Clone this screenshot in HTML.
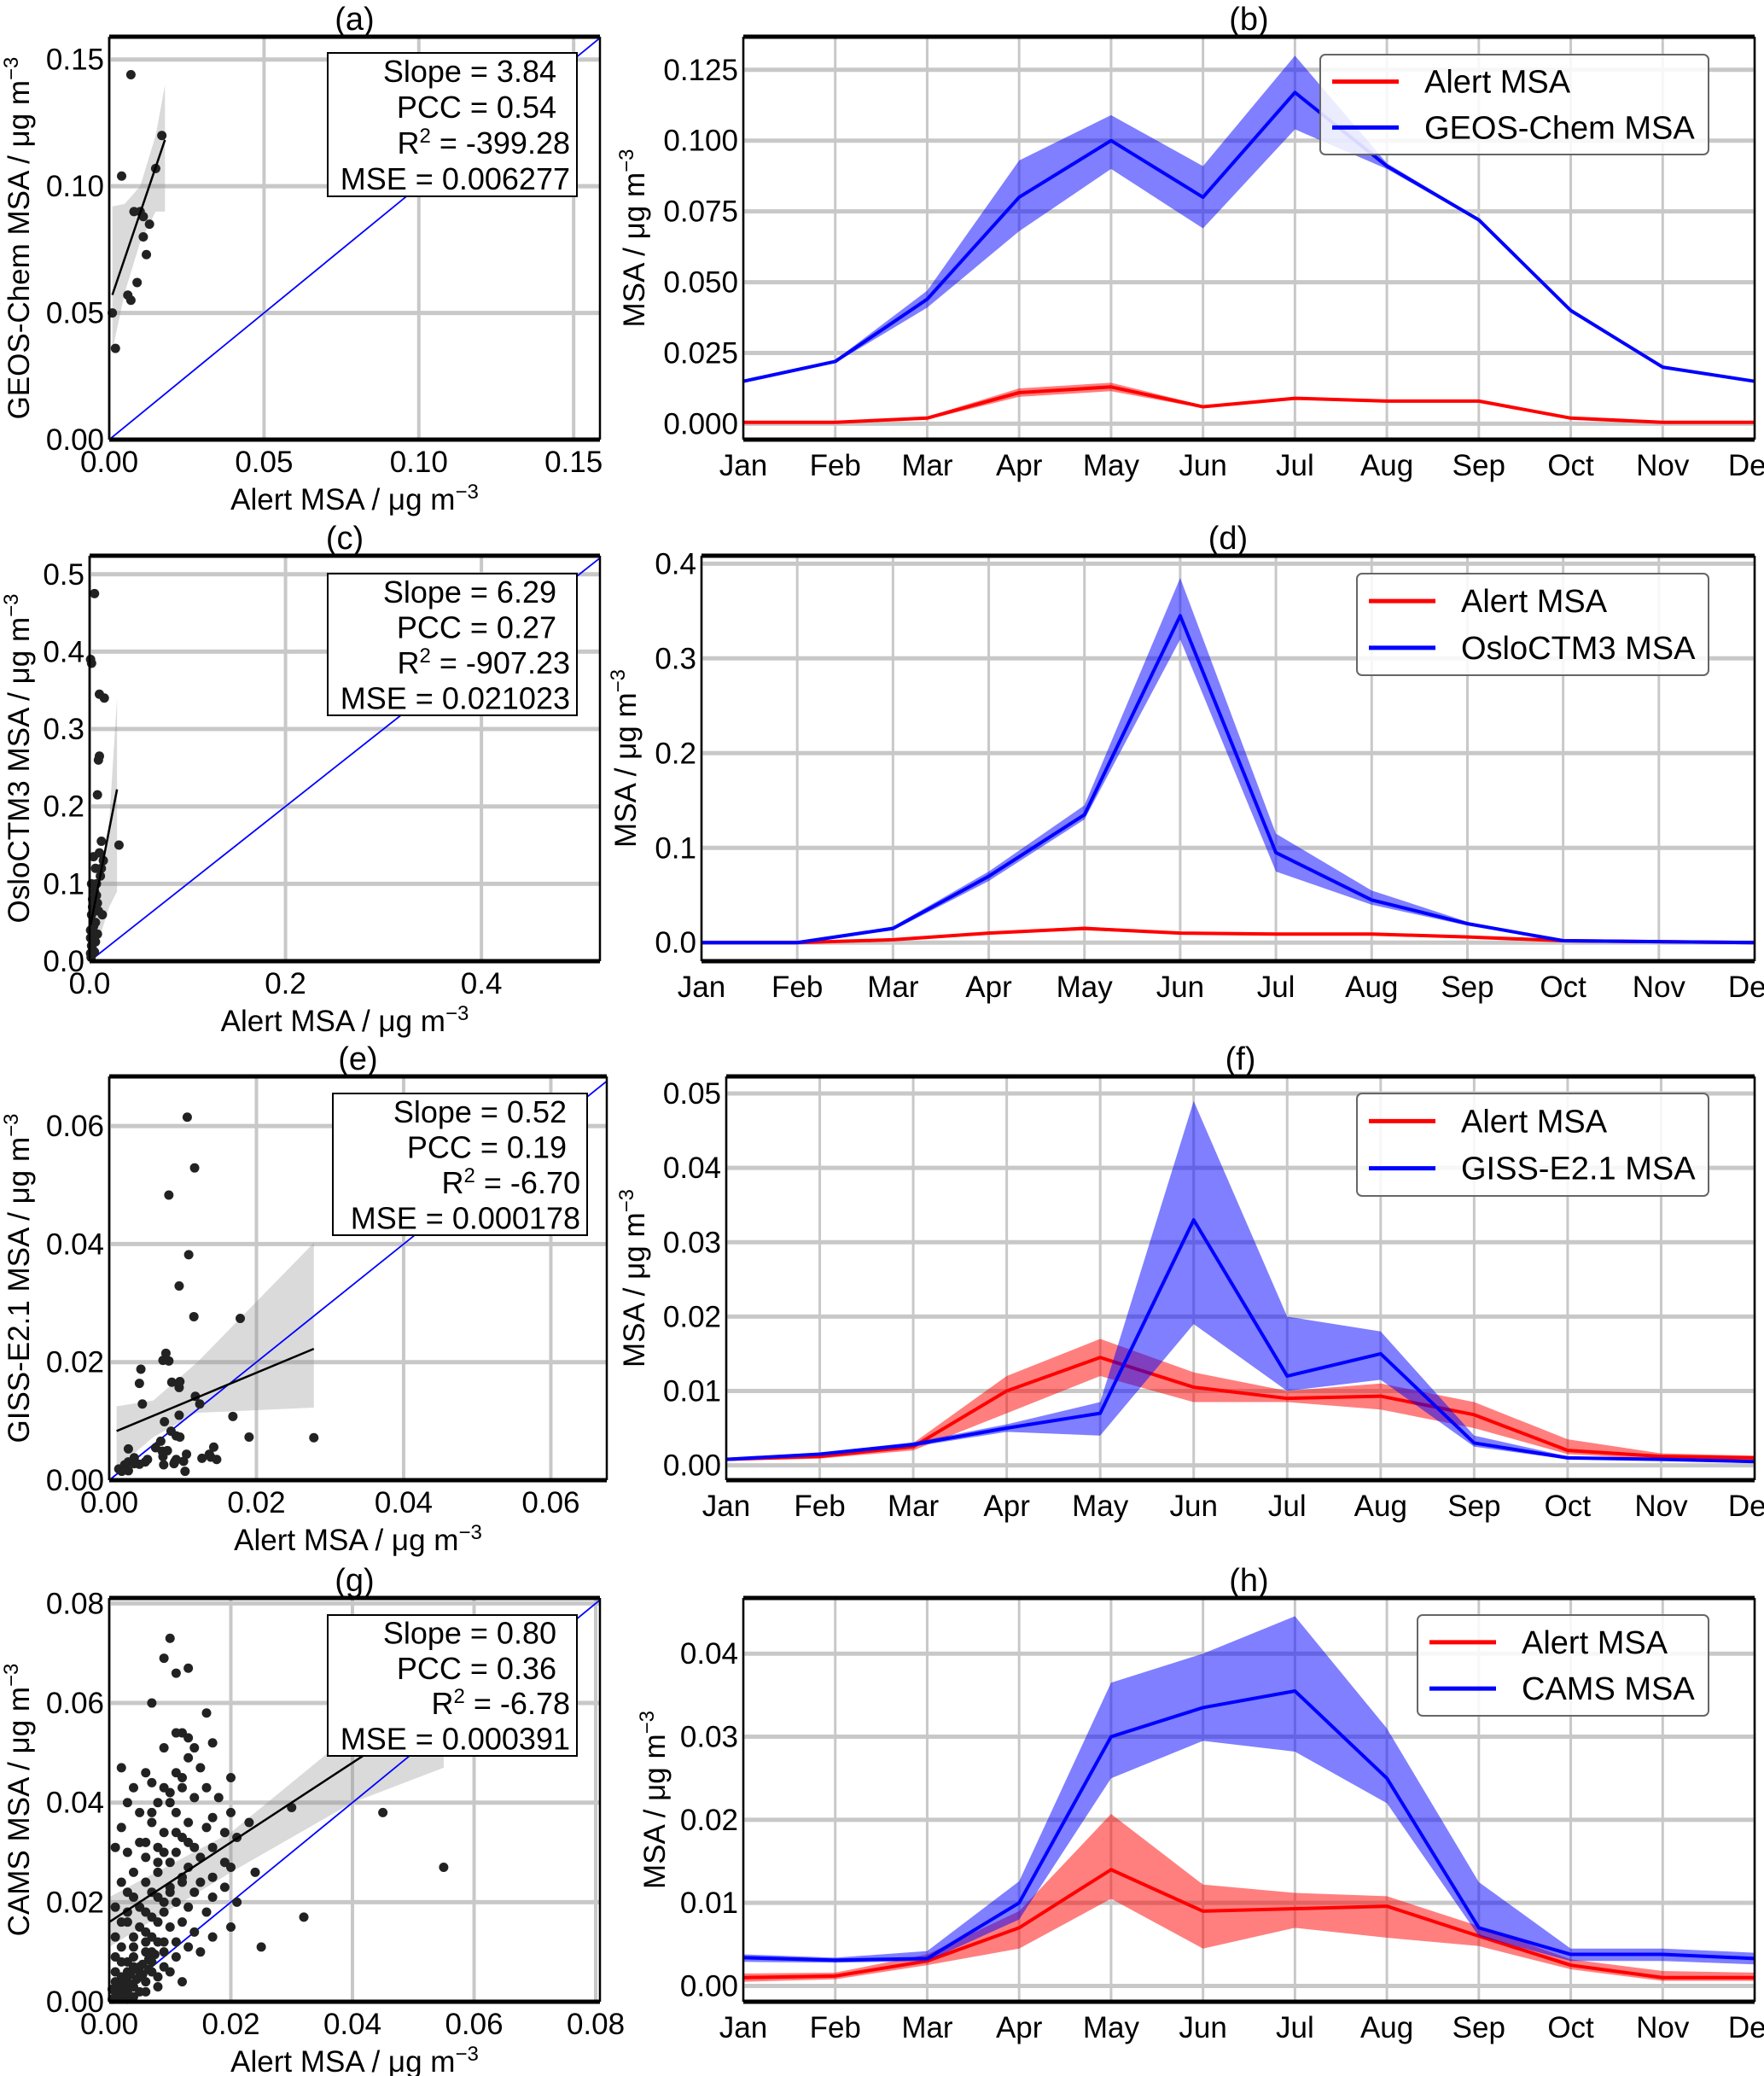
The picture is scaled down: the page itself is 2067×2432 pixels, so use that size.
<!DOCTYPE html>
<html><head><meta charset="utf-8"><style>
body{margin:0;background:#fff;}
svg{display:block;font-family:"Liberation Sans",sans-serif;}
</style></head><body>
<svg id="fig" width="2067" height="2432" viewBox="0 0 2067 2432" xmlns="http://www.w3.org/2000/svg"></svg>
<script>
// ---------- data ----------
const months = ["Jan","Feb","Mar","Apr","May","Jun","Jul","Aug","Sep","Oct","Nov","Dec"];
// (b)
const bAlert   = [.0005,.0005,.002,.011,.013,.006,.009,.008,.008,.002,.0005,.0005];
const bAlertLo = [.0,.0,.0015,.0095,.0115,.0055,.0085,.0075,.0075,.0015,.0,.0];
const bAlertHi = [.001,.001,.0025,.0125,.0145,.0065,.0095,.0085,.0085,.0025,.001,.001];
const bModel   = [.015,.022,.044,.080,.100,.080,.117,.091,.072,.040,.020,.015];
const bModelLo = [.0145,.0215,.041,.068,.090,.069,.104,.090,.0715,.0395,.0195,.0145];
const bModelHi = [.0155,.0225,.047,.093,.109,.091,.130,.092,.0725,.0405,.0205,.0155];
// (d)
const dAlert   = [.0,.0,.003,.010,.015,.010,.009,.009,.006,.002,.001,.0];
const dAlertLo = [.0,.0,.002,.009,.013,.009,.008,.008,.005,.001,.0,.0];
const dAlertHi = [.001,.001,.004,.011,.017,.011,.010,.010,.007,.003,.002,.001];
const dModel   = [.0,.0,.015,.070,.135,.345,.095,.045,.020,.002,.001,.0];
const dModelLo = [.0,.0,.013,.065,.130,.320,.075,.040,.018,.001,.0,.0];
const dModelHi = [.001,.001,.017,.075,.145,.385,.115,.055,.022,.003,.002,.001];
// (f)
const fAlert   = [.0008,.0012,.0025,.010,.0145,.0105,.009,.0093,.0068,.002,.0012,.001];
const fAlertLo = [.0006,.0009,.002,.007,.012,.0085,.0085,.0075,.005,.0015,.0008,.0007];
const fAlertHi = [.001,.0015,.003,.012,.017,.0125,.010,.011,.0085,.0035,.0016,.0013];
const fModel   = [.0008,.0015,.0028,.005,.007,.033,.012,.015,.003,.001,.0008,.0005];
const fModelLo = [.0006,.0013,.0025,.0045,.004,.019,.010,.0115,.0025,.0008,.0006,.0004];
const fModelHi = [.001,.0017,.0031,.0055,.0085,.049,.020,.018,.004,.0012,.001,.0006];
// (h)
const hAlert   = [.001,.0012,.003,.007,.014,.009,.0093,.0096,.006,.0025,.001,.001];
const hAlertLo = [.0005,.0008,.0025,.0045,.0105,.0045,.007,.0058,.0048,.002,.0006,.0006];
const hAlertHi = [.0015,.0016,.0038,.009,.0207,.0122,.0112,.0108,.0072,.0032,.0018,.0016];
const hModel   = [.0034,.0031,.0033,.010,.030,.0335,.0355,.025,.007,.0038,.0038,.0033];
const hModelLo = [.0029,.0028,.0030,.008,.025,.0295,.0282,.022,.006,.0030,.0030,.0026];
const hModelHi = [.0038,.0034,.0042,.0126,.0365,.040,.0445,.031,.0125,.0045,.0045,.0040];

// scatter (x = Alert, y = model)
const aPts = [[.007,.144],[.004,.104],[.001,.05],[.002,.036],[.006,.057],[.007,.055],[.008,.09],[.010,.09],[.011,.080],[.013,.085],[.012,.073],[.015,.107],[.017,.120],[.009,.062],[.011,.088]];
const cPts = [[.005,.475],[.001,.39],[.002,.385],[.010,.345],[.015,.34],[.010,.265],[.009,.26],[.008,.215],[.012,.155],[.030,.15],[.010,.14],[.004,.135],[.006,.12],[.002,.10],[.005,.09],[.003,.08],[.008,.075],[.002,.06],[.006,.05],[.001,.04],[.004,.03],[.002,.02],[.001,.01],[.003,.015],[.006,.025],[.011,.11],[.014,.13],[.007,.10],[.009,.065],[.0015,.005],[.004,.045],[.013,.06],[.003,.07],[.007,.085],[.012,.12],[.001,.03],[.005,.012],[.008,.035]];
const ePts = [[.0106,.0615],[.0116,.0529],[.0081,.0483],[.0108,.0382],[.0095,.0329],[.0115,.0277],[.0178,.0274],[.0077,.0215],[.0073,.0203],[.0081,.0202],[.0043,.0188],[.0041,.0164],[.0085,.0166],[.0096,.0167],[.0095,.0157],[.0117,.0142],[.0045,.0129],[.0123,.0129],[.0095,.0110],[.0168,.0108],[.0075,.0099],[.0084,.0083],[.0091,.0075],[.0096,.0073],[.0190,.0073],[.0278,.0072],[.0070,.0066],[.0026,.0053],[.0063,.0055],[.0072,.0049],[.0079,.0050],[.0142,.0056],[.0105,.0044],[.0073,.0040],[.0136,.0044],[.0138,.0039],[.0126,.0037],[.0146,.0035],[.0091,.0035],[.0089,.0031],[.0088,.0028],[.0101,.0032],[.0074,.0026],[.0034,.0038],[.0052,.0035],[.0049,.0031],[.0026,.0031],[.0034,.0028],[.0041,.0027],[.0021,.0026],[.0013,.0019],[.0017,.0015],[.0026,.0016],[.0103,.0015]];
const gPts = [[.010,.073],[.009,.069],[.013,.067],[.011,.066],[.007,.060],[.016,.058],[.011,.054],[.012,.054],[.013,.053],[.017,.052],[.014,.051],[.009,.051],[.013,.049],[.015,.047],[.011,.046],[.020,.045],[.012,.045],[.006,.046],[.007,.044],[.004,.043],[.009,.043],[.002,.047],[.016,.043],[.010,.042],[.018,.041],[.014,.041],[.003,.040],[.008,.040],[.020,.038],[.045,.038],[.030,.039],[.005,.038],[.011,.038],[.017,.037],[.023,.036],[.007,.036],[.013,.036],[.016,.035],[.002,.035],[.009,.034],[.019,.034],[.021,.033],[.012,.033],[.005,.032],[.014,.031],[.001,.031],[.008,.031],[.017,.031],[.011,.030],[.003,.030],[.006,.029],[.015,.029],[.019,.028],[.010,.028],[.013,.027],[.020,.027],[.004,.026],[.008,.026],[.024,.026],[.017,.025],[.055,.027],[.012,.025],[.015,.024],[.002,.024],[.006,.024],[.010,.023],[.019,.023],[.014,.022],[.003,.022],[.008,.021],[.017,.021],[.011,.020],[.021,.020],[.005,.019],[.013,.019],[.001,.019],[.009,.018],[.016,.018],[.032,.017],[.007,.017],[.012,.016],[.003,.016],[.020,.015],[.010,.015],[.014,.014],[.006,.014],[.017,.013],[.004,.013],[.011,.012],[.008,.012],[.025,.011],[.013,.011],[.002,.011],[.006,.010],[.009,.010],[.015,.010],[.004,.009],[.011,.009],[.007,.008],[.002,.008],[.005,.007],[.009,.007],[.003,.006],[.007,.006],[.001,.006],[.005,.005],[.008,.005],[.003,.004],[.006,.004],[.001,.004],[.004,.003],[.002,.003],[.005,.002],[.003,.002],[.001,.002],[.002,.001],[.004,.001],[.001,.001],[.003,.0005],[.012,.004],[.006,.002],[.008,.003],[.010,.006],[.004,.007],[.007,.010],[.009,.012],
[.0005,.0025],[.0015,.0035],[.0025,.0045],[.0035,.0055],[.0045,.0065],[.0055,.0075],[.0065,.0085],[.0075,.0095],[.0015,.0015],[.0025,.0025],[.0035,.0035],[.0045,.0045],[.0055,.0055],[.0065,.0065],[.0005,.0005],[.002,.005],[.003,.008],[.004,.011],[.006,.012],[.005,.015],[.007,.013],[.008,.016],[.006,.018],[.009,.020],[.010,.022],[.012,.024],[.004,.021],[.003,.018],[.007,.022],[.008,.028],[.006,.032],[.009,.030],[.011,.034],[.013,.032],[.007,.038],[.010,.040],[.012,.043],[.001,.013],[.002,.016],[.001,.009]];
// regression lines [x0,x1,intercept,slope] and CI bands
const aFit = [.001,.018,.0535,3.6];
const aBandX = [.001,.005,.010,.015,.018], aBandLo=[.035,.058,.078,.090,.090], aBandHi=[.092,.093,.100,.120,.140];
const cFit = [.001,.028,.040,6.5];
const cBandX = [.0,.010,.020,.028], cBandLo=[.0,.030,.070,.090], cBandHi=[.090,.100,.180,.340];
const eFit = [.001,.0278,.0078,.52];
const eBandX = [.001,.006,.0119,.0278], eBandLo=[.002,.0073,.0114,.0123], eBandHi=[.0125,.0135,.0199,.0402];
const gFit = [.0,.0545,.016,.80];
const gBandX = [.0,.020,.040,.055], gBandLo=[.011,.026,.040,.047], gBandHi=[.021,.034,.054,.066];
const aStats = ["3.84","0.54","-399.28","0.006277"];
const cStats = ["6.29","0.27","-907.23","0.021023"];
const eStats = ["0.52","0.19","-6.70","0.000178"];
const gStats = ["0.80","0.36","-6.78","0.000391"];

// ---------- rendering ----------
const NS="http://www.w3.org/2000/svg";
const svg=document.getElementById('fig');
function mk(tag,attrs,parent,text){const e=document.createElementNS(NS,tag);for(const k in attrs)e.setAttribute(k,attrs[k]);if(text!==undefined)e.textContent=text;(parent||svg).appendChild(e);return e;}
const GRID="#c8c8c8";

function axesFrame(g,L,R,T,B){
  mk('line',{x1:L,y1:T,x2:L,y2:B,stroke:'#000','stroke-width':2.5},g);
  mk('line',{x1:R,y1:T,x2:R,y2:B,stroke:'#000','stroke-width':2.5},g);
  mk('line',{x1:L,y1:T,x2:R,y2:T,stroke:'#000','stroke-width':5},g);
  mk('line',{x1:L,y1:B,x2:R,y2:B,stroke:'#000','stroke-width':5},g);
}
function title(g,txt,L,R,T){const t=mk('text',{x:(L+R)/2,y:T-8,'font-size':38,'text-anchor':'middle'},g,txt);}
function ylabel(g,x,cy,txt){const t=mk('text',{x:x,y:cy,'font-size':35,'text-anchor':'middle',transform:`rotate(-90 ${x} ${cy})`},g);
  t.appendChild(document.createTextNode(txt+' / μg m'));mk('tspan',{'baseline-shift':'super','font-size':24},t,'−3');
  }
function xlabel(g,cx,y,txt){const t=mk('text',{x:cx,y:y,'font-size':35,'text-anchor':'middle'},g);
  t.appendChild(document.createTextNode(txt+' / μg m'));mk('tspan',{'baseline-shift':'super','font-size':24},t,'−3');
  }

function scatterPanel(o){
  const g=mk('g',{});  
  const {L,R,T,B}=o;
  const X=v=>L+(v-0)/(o.xmax)*(R-L), Y=v=>B-(v)/(o.ymax)*(B-T);
  o.xt.forEach(v=>{mk('line',{x1:X(v),y1:T,x2:X(v),y2:B,stroke:GRID,'stroke-width':4},g);
    const t=mk('text',{x:X(v),y:B+38,'font-size':35,'text-anchor':'middle'},g,v.toFixed(o.dec));});
  o.yt.forEach(v=>{mk('line',{x1:L,y1:Y(v),x2:R,y2:Y(v),stroke:GRID,'stroke-width':5},g);
    const t=mk('text',{x:L-6,y:Y(v)+12,'font-size':35,'text-anchor':'end'},g,v.toFixed(o.dec));});
  let pts=o.bx.map((x,i)=>X(x)+','+Y(o.bhi[i])).concat(o.bx.map((x,i)=>X(x)+','+Y(o.blo[i])).reverse());
  const band=mk('polygon',{points:pts.join(' '),fill:'rgba(150,150,150,0.35)'},g);
  const m=Math.min(o.xmax,o.ymax);
  const one=mk('line',{x1:X(0),y1:Y(0),x2:X(m),y2:Y(m),stroke:'#0000ff','stroke-width':1.8},g);
  o.pts.forEach(p=>{const c=mk('circle',{cx:X(p[0]),cy:Y(p[1]),r:5.5,fill:'#222'},g);});
  const f=o.fit;const fl=mk('line',{x1:X(f[0]),y1:Y(f[2]+f[3]*f[0]),x2:X(f[1]),y2:Y(f[2]+f[3]*f[1]),stroke:'#000','stroke-width':2.5},g);
  axesFrame(g,L,R,T,B);
  const s=o.box; const bx=mk('g',{},g);  
  mk('rect',{x:s[0],y:s[1],width:s[2]-s[0],height:s[3]-s[1],fill:'#fff',stroke:'#000','stroke-width':2},bx);
  const rx=s[2]-8, lh=(s[3]-s[1])/4;
  mk('text',{x:rx-16,y:s[1]+lh*0.5+13,'font-size':36,'text-anchor':'end'},bx,'Slope = '+o.stats[0]);
  mk('text',{x:rx-16,y:s[1]+lh*1.5+13,'font-size':36,'text-anchor':'end'},bx,'PCC = '+o.stats[1]);
  const r2=mk('text',{x:rx,y:s[1]+lh*2.5+13,'font-size':36,'text-anchor':'end'},bx);r2.appendChild(document.createTextNode('R'));mk('tspan',{'baseline-shift':'super','font-size':24},r2,'2');r2.appendChild(document.createTextNode(' = '+o.stats[2]));
  mk('text',{x:rx,y:s[1]+lh*3.5+13,'font-size':36,'text-anchor':'end'},bx,'MSE = '+o.stats[3]);
  title(g,o.title,L,R,T);
  ylabel(g,34,(T+B)/2,o.ylab);
  xlabel(g,(L+R)/2,B+82,'Alert MSA');
}

function timePanel(o){
  const g=mk('g',{});  
  const {L,R,T,B}=o;
  const X=i=>L+i/(months.length-1)*(R-L), Y=v=>B-(v-o.ymin)/(o.ymax-o.ymin)*(B-T);
  months.forEach((m,i)=>{mk('line',{x1:X(i),y1:T,x2:X(i),y2:B,stroke:GRID,'stroke-width':3},g);
    const t=mk('text',{x:X(i),y:B+42,'font-size':35,'text-anchor':'middle'},g,m);});
  o.yt.forEach(v=>{mk('line',{x1:L,y1:Y(v),x2:R,y2:Y(v),stroke:GRID,'stroke-width':5},g);
    const t=mk('text',{x:L-6,y:Y(v)+12,'font-size':35,'text-anchor':'end'},g,v.toFixed(o.dec));});
  function series(v,lo,hi,col,fill,nm){
    const pts=lo.map((y,i)=>X(i)+','+Y(hi[i])).concat(lo.map((y,i)=>X(i)+','+Y(y)).reverse());
    const b=mk('polygon',{points:pts.join(' '),fill:fill},g);
    const l=mk('polyline',{points:v.map((y,i)=>X(i)+','+Y(y)).join(' '),fill:'none',stroke:col,'stroke-width':4,'stroke-linejoin':'round'},g);
  }
  series(o.a,o.alo,o.ahi,'#ff0000','rgba(255,0,0,0.5)','alert-msa');
  series(o.m,o.mlo,o.mhi,'#0000ff','rgba(0,0,255,0.5)','model-msa');
  axesFrame(g,L,R,T,B);
  const lg=o.leg; const le=mk('g',{},g);  
  mk('rect',{x:lg[0],y:lg[1],width:lg[2]-lg[0],height:lg[3]-lg[1],fill:'rgba(255,255,255,0.85)',stroke:'#666','stroke-width':2,rx:6},le);
  const e1=lg[1]+(lg[3]-lg[1])*0.27, e2=lg[1]+(lg[3]-lg[1])*0.73;
  mk('line',{x1:lg[0]+14,y1:e1,x2:lg[0]+92,y2:e1,stroke:'#ff0000','stroke-width':5},le);
  mk('text',{x:lg[0]+122,y:e1+13,'font-size':38},le,'Alert MSA');
  mk('line',{x1:lg[0]+14,y1:e2,x2:lg[0]+92,y2:e2,stroke:'#0000ff','stroke-width':5},le);
  mk('text',{x:lg[0]+122,y:e2+13,'font-size':38},le,o.model+' MSA');
  title(g,o.title,L,R,T);
  ylabel(g,o.ylx,(T+B)/2,'MSA');
}

scatterPanel({name:'panel-a',title:'(a)',L:128,R:703,T:43,B:515,xmax:.1585,ymax:.159,xt:[0,.05,.1,.15],yt:[0,.05,.1,.15],dec:2,pts:aPts,fit:aFit,bx:aBandX,blo:aBandLo,bhi:aBandHi,box:[384,62,676,230],stats:aStats,ylab:'GEOS-Chem MSA'});
scatterPanel({name:'panel-c',title:'(c)',L:105,R:703,T:651,B:1126,xmax:.521,ymax:.524,xt:[0,.2,.4],yt:[0,.1,.2,.3,.4,.5],dec:1,pts:cPts,fit:cFit,bx:cBandX,blo:cBandLo,bhi:cBandHi,box:[384,672,676,838],stats:cStats,ylab:'OsloCTM3 MSA'});
scatterPanel({name:'panel-e',title:'(e)',L:128,R:711,T:1261,B:1734,xmax:.0676,ymax:.0684,xt:[0,.02,.04,.06],yt:[0,.02,.04,.06],dec:2,pts:ePts,fit:eFit,bx:eBandX,blo:eBandLo,bhi:eBandHi,box:[390,1281,688,1447],stats:eStats,ylab:'GISS-E2.1 MSA'});
scatterPanel({name:'panel-g',title:'(g)',L:128,R:703,T:1872,B:2345,xmax:.0807,ymax:.0811,xt:[0,.02,.04,.06,.08],yt:[0,.02,.04,.06,.08],dec:2,pts:gPts,fit:gFit,bx:gBandX,blo:gBandLo,bhi:gBandHi,box:[384,1892,676,2057],stats:gStats,ylab:'CAMS MSA'});

timePanel({name:'panel-b',title:'(b)',L:871,R:2056,T:43,B:515,ymin:-.0056,ymax:.1367,yt:[0,.025,.05,.075,.1,.125],dec:3,a:bAlert,alo:bAlertLo,ahi:bAlertHi,m:bModel,mlo:bModelLo,mhi:bModelHi,leg:[1547,64,2002,181],model:'GEOS-Chem',ylx:755});
timePanel({name:'panel-d',title:'(d)',L:822,R:2056,T:651,B:1126,ymin:-.0196,ymax:.4084,yt:[0,.1,.2,.3,.4],dec:1,a:dAlert,alo:dAlertLo,ahi:dAlertHi,m:dModel,mlo:dModelLo,mhi:dModelHi,leg:[1590,672,2002,791],model:'OsloCTM3',ylx:745});
timePanel({name:'panel-f',title:'(f)',L:851,R:2056,T:1261,B:1734,ymin:-.002,ymax:.0523,yt:[0,.01,.02,.03,.04,.05],dec:2,a:fAlert,alo:fAlertLo,ahi:fAlertHi,m:fModel,mlo:fModelLo,mhi:fModelHi,leg:[1590,1281,2002,1401],model:'GISS-E2.1',ylx:755});
timePanel({name:'panel-h',title:'(h)',L:871,R:2056,T:1872,B:2345,ymin:-.0019,ymax:.0467,yt:[0,.01,.02,.03,.04],dec:2,a:hAlert,alo:hAlertLo,ahi:hAlertHi,m:hModel,mlo:hModelLo,mhi:hModelHi,leg:[1661,1892,2002,2010],model:'CAMS',ylx:779});
</script>
</body></html>
